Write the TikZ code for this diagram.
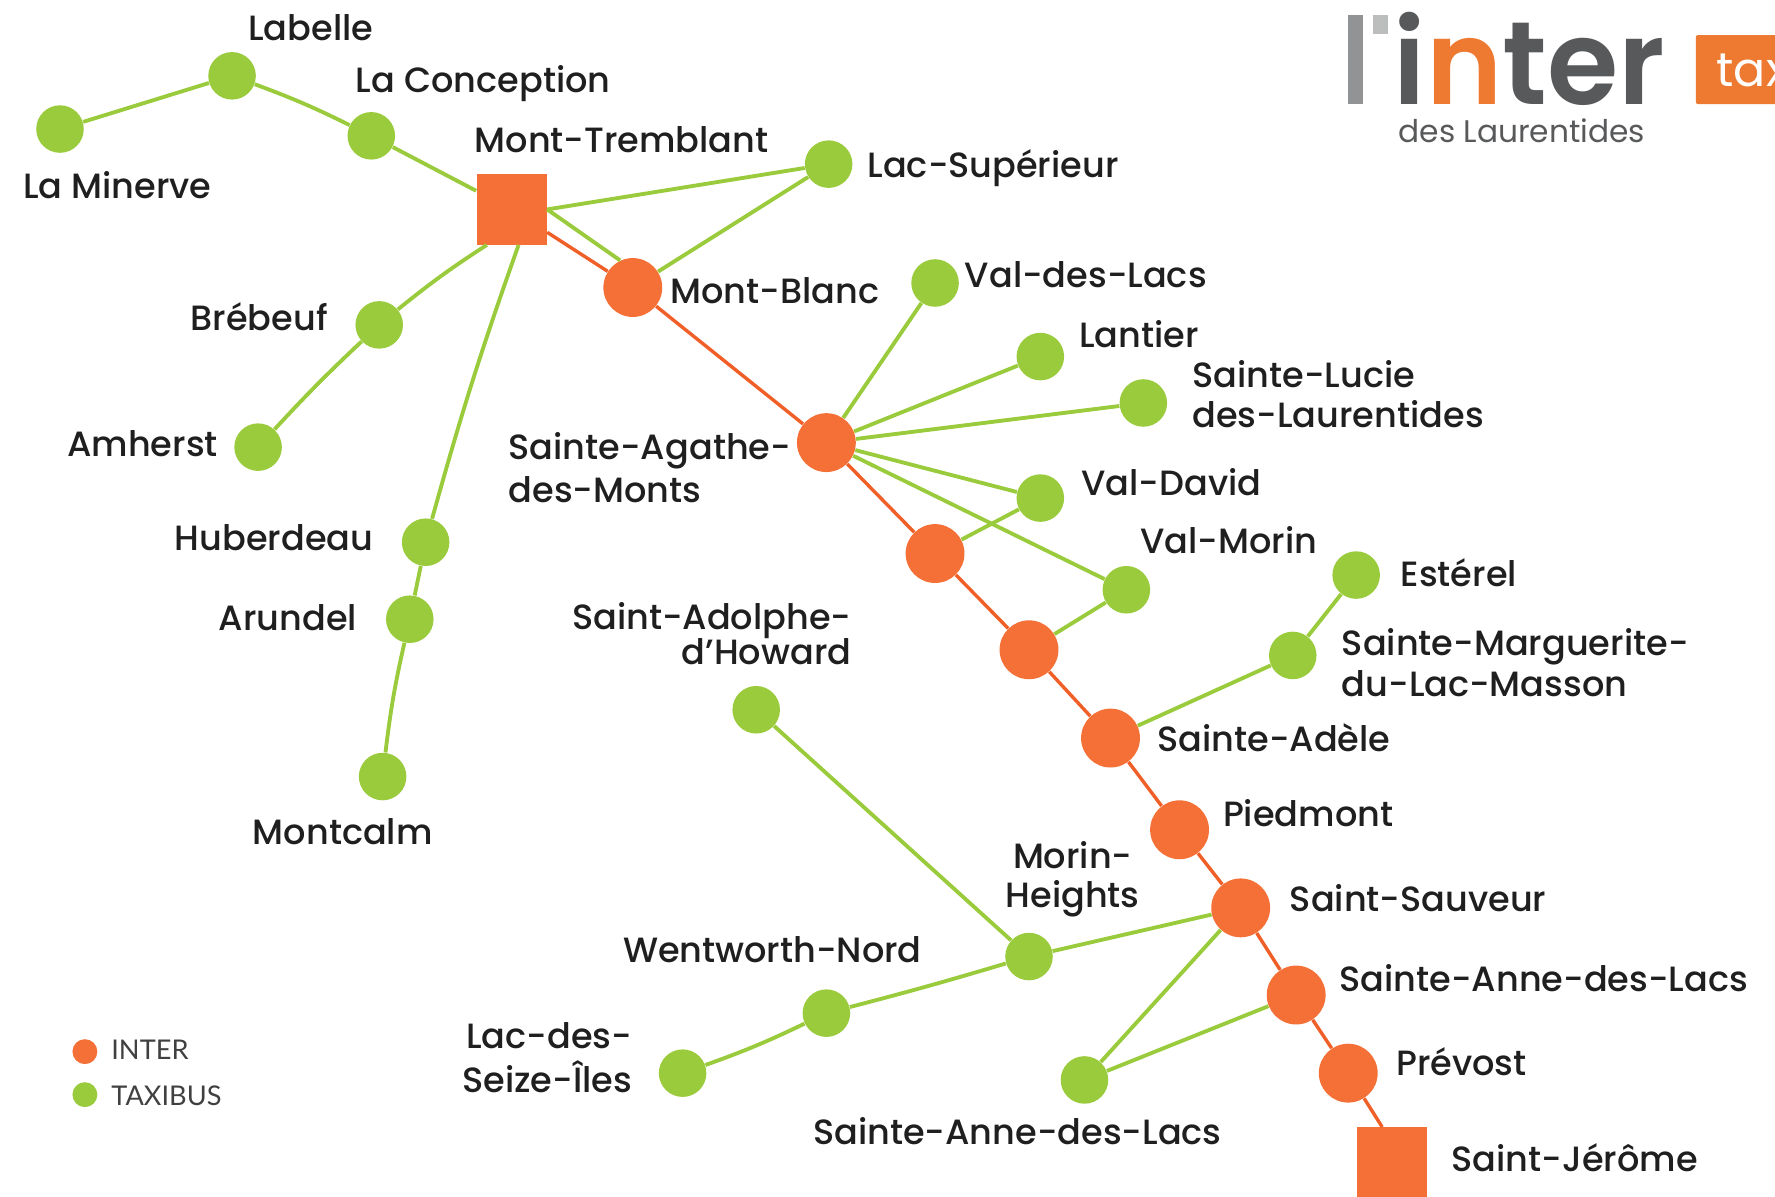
\documentclass[tikz,border=0pt]{standalone}
\usepackage{fontspec}
\setmainfont{Poppins}[UprightFont=* Medium]
\newfontfamily\logofont{Poppins}[UprightFont=* SemiBold]
\newfontfamily\subfont{Poppins}
\newfontfamily\legendfont{Lato}
\usepackage{tikz}
\definecolor{interorange}{HTML}{F47037}
\definecolor{lineorange}{HTML}{EF5F27}
\definecolor{taxigreen}{HTML}{9ACB3C}
\definecolor{logoorange}{HTML}{EE7A32}
\definecolor{logogray}{HTML}{58595B}
\tikzstyle{inter} = [circle, fill=interorange, minimum size=26pt, inner sep=0pt]
\tikzstyle{terminus} = [rectangle, fill=interorange, minimum size=31pt, inner sep=0pt]
\tikzstyle{taxibus} = [circle, fill=taxigreen, minimum size=21pt, inner sep=0pt]
\tikzstyle{place} = [font=\fontsize{15.5}{18}\selectfont, text=black!88, inner sep=0pt, anchor=base west]
\tikzstyle{interline} = [lineorange, line width=1.5pt]
\tikzstyle{taxiline} = [taxigreen, line width=1.7pt]
\tikzstyle{legendtext} = [font=\legendfont\fontsize{12}{14}\selectfont, text=black!75, inner sep=0pt, anchor=base west]
\begin{document}
\begin{tikzpicture}[x=0.5pt,y=-0.5pt]
	\useasboundingbox (0,0) rectangle (1568,1057.4);
	\clip (0,0) rectangle (1568,1057.4);
	%stations
	\node (minerve) [taxibus] at (53,114) {};
	\node (labelle) [taxibus] at (205,67) {};
	\node (conception) [taxibus] at (328,120) {};
	\node (tremblant) [terminus] at (452,185) {};
	\node (superieur) [taxibus] at (732,145) {};
	\node (blanc) [inter] at (559,254) {};
	\node (brebeuf) [taxibus] at (335,287) {};
	\node (amherst) [taxibus] at (228,395) {};
	\node (huberdeau) [taxibus] at (376,479) {};
	\node (arundel) [taxibus] at (362,547) {};
	\node (montcalm) [taxibus] at (338,686) {};
	\node (valdeslacs) [taxibus] at (826,250) {};
	\node (lantier) [taxibus] at (919,315) {};
	\node (lucie) [taxibus] at (1010,356) {};
	\node (agathe) [inter] at (730,391) {};
	\node (david) [taxibus] at (919,440) {};
	\node (inter1) [inter] at (826,489) {};
	\node (inter2) [inter] at (909,574) {};
	\node (morin) [taxibus] at (995,521) {};
	\node (esterel) [taxibus] at (1198,508) {};
	\node (marguerite) [taxibus] at (1142,579) {};
	\node (adele) [inter] at (981,652) {};
	\node (piedmont) [inter] at (1042,733) {};
	\node (sauveur) [inter] at (1096,802) {};
	\node (anne) [inter] at (1145,879) {};
	\node (prevost) [inter] at (1191,948) {};
	\node (jerome) [terminus] at (1230,1027) {};
	\node (adolphe) [taxibus] at (668,627) {};
	\node (heights) [taxibus] at (909,845) {};
	\node (wentworth) [taxibus] at (730,895) {};
	\node (seize) [taxibus] at (603,948) {};
	\node (annegreen) [taxibus] at (958,954) {};

	%inter line
	\draw [interline](tremblant) -- (blanc);
	\draw [interline](blanc) -- (agathe);
	\draw [interline](agathe) -- (inter1);
	\draw [interline](inter1) -- (inter2);
	\draw [interline](inter2) -- (adele);
	\draw [interline](adele) -- (piedmont);
	\draw [interline](piedmont) -- (sauveur);
	\draw [interline](sauveur) -- (anne);
	\draw [interline](anne) -- (prevost);
	\draw [interline](prevost) -- (jerome.106);

	%taxibus lines
	\draw [taxiline](minerve) -- (labelle);
	\draw [taxiline](labelle) to[bend left=3] (conception);
	\draw [taxiline](conception) -- (tremblant);
	\draw [taxiline](tremblant.east) -- (superieur);
	\draw [taxiline](tremblant.east) -- (blanc.115);
	\draw [taxiline](blanc) -- (superieur);
	\draw [taxiline](tremblant.-125) to[bend right=3] (brebeuf);
	\draw [taxiline](brebeuf) to[bend right=2] (amherst);
	\draw [taxiline](tremblant.-79) to[bend right=2] (huberdeau);
	\draw [taxiline](huberdeau) -- (arundel);
	\draw [taxiline](arundel) to[bend right=3] (montcalm);
	\draw [taxiline](agathe) -- (valdeslacs);
	\draw [taxiline](agathe) -- (lantier);
	\draw [taxiline](agathe) -- (lucie);
	\draw [taxiline](agathe) -- (david);
	\draw [taxiline](agathe) -- (morin);
	\draw [taxiline](inter1) -- (david);
	\draw [taxiline](inter2) -- (morin);
	\draw [taxiline](adele) -- (marguerite);
	\draw [taxiline](marguerite) -- (esterel);
	\draw [taxiline](adolphe) -- (heights);
	\draw [taxiline](sauveur) -- (heights);
	\draw [taxiline](heights) to[bend left=1] (wentworth);
	\draw [taxiline](wentworth) to[bend left=3] (seize);
	\draw [taxiline](sauveur) -- (annegreen);
	\draw [taxiline](anne) -- (annegreen);

	%names
	\node (tlabelle) [place] at (219,36) {Labelle};
	\node (tconception) [place] at (314,82) {La Conception};
	\node (ttremblant) [place] at (419,135) {Mont-Tremblant};
	\node (tminerve) [place] at (20,175) {La Minerve};
	\node (tsuperieur) [place] at (766,157) {Lac-Supérieur};
	\node (tblanc) [place] at (592,268) {Mont-Blanc};
	\node (tvaldeslacs) [place] at (852,254) {Val-des-Lacs};
	\node (tlantier) [place] at (953,307) {Lantier};
	\node (tlucie) [place, align=left] at (1053,378) {Sainte-Lucie\\des-Laurentides};
	\node (tbrebeuf) [place] at (168,292) {Brébeuf};
	\node (tamherst) [place] at (59,403) {Amherst};
	\node (tagathe) [place, align=left] at (449,444) {Sainte-Agathe-\\[1pt]des-Monts};
	\node (tdavid) [place] at (955,438) {Val-David};
	\node (thuberdeau) [place] at (154,486) {Huberdeau};
	\node (tmorin) [place] at (1007,489) {Val-Morin};
	\node (testerel) [place] at (1237,518) {Estérel};
	\node (tarundel) [place] at (193,557) {Arundel};
	\node (tadolphe) [place, align=right] at (505,587) {Saint-Adolphe-\\[-2.5pt]d’Howard};
	\node (tmarguerite) [place, align=left] at (1185,615) {Sainte-Marguerite-\\du-Lac-Masson};
	\node (tadele) [place] at (1022,664) {Sainte-Adèle};
	\node (tpiedmont) [place] at (1080,730) {Piedmont};
	\node (tmontcalm) [place] at (223,746) {Montcalm};
	\node (theights) [place, align=center] at (888,802) {Morin-\\[-.5pt]Heights};
	\node (tsauveur) [place] at (1139,805) {Saint-Sauveur};
	\node (twentworth) [place] at (550,850) {Wentworth-Nord};
	\node (tanne) [place] at (1183,876) {Sainte-Anne-des-Lacs};
	\node (tseize) [place, align=right] at (408,965) {Lac-des-\\[1.5pt]Seize-Îles};
	\node (tprevost) [place] at (1233,950) {Prévost};
	\node (tannegreen) [place] at (718,1011) {Sainte-Anne-des-Lacs};
	\node (tjerome) [place] at (1282,1035) {Saint-Jérôme};

	%legend
	\node (legendinter) [circle, fill=interorange, minimum size=11pt, inner sep=0pt] at (75,929) {};
	\node (legendtaxi) [circle, fill=taxigreen, minimum size=11pt, inner sep=0pt] at (75,967) {};
	\node (tlegendinter) [legendtext] at (98,936) {INTER};
	\node (tlegendtaxi) [legendtext] at (98,977) {TAXIBUS};

	%logo
	\fill [logogray!65] (1191,13) rectangle (1204,92);
	\fill [logogray!40] (1213,13) rectangle (1226,30);
	\node (logoword) [font=\logofont\fontsize{52}{46}\selectfont, text=logogray, inner sep=0pt, text depth=0pt, anchor=base west, xscale=0.98, transform shape] at (1231,92) {i\textcolor{logoorange}{n}ter};
	\node (logosub) [font=\subfont\fontsize{13.8}{16}\selectfont, text=logogray, inner sep=0pt, anchor=base west] at (1235,126) {des Laurentides};
	\fill [logoorange, rounded corners=1pt] (1498,31) rectangle (1600,92);
	\node (logotax) [font=\subfont\fontsize{21}{24}\selectfont, text=white, inner sep=0pt, anchor=base west] at (1516,76) {tax};
\end{tikzpicture}
\end{document}
